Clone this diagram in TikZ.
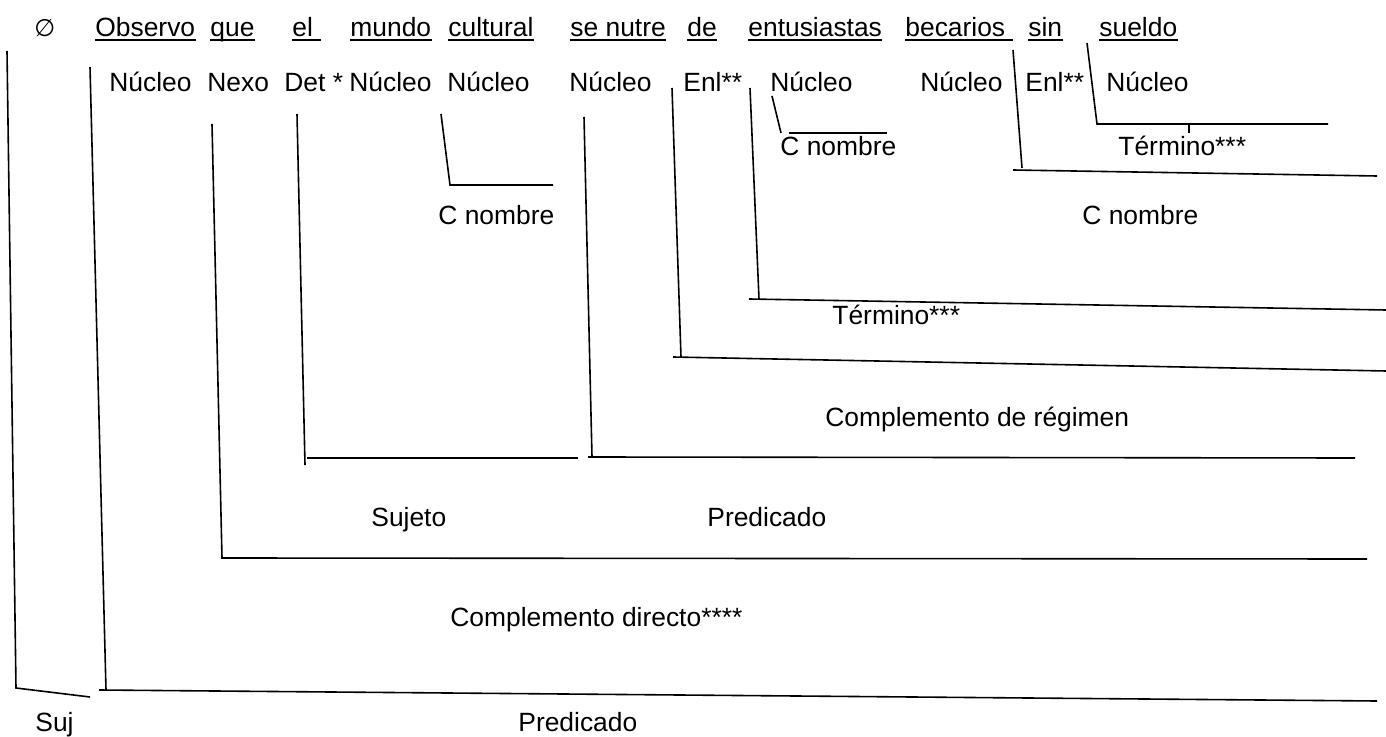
\documentclass[tikz,border=0pt]{standalone}
\usepackage{fontspec}
\setmainfont{Liberation Sans}
\newfontfamily\symfont{DejaVu Sans}

\begin{document}
\begin{tikzpicture}[x=0.5pt, y=-0.5pt, font=\fontsize{13.2}{15}\selectfont,
    word/.style={inner sep=0pt, anchor=base west},
    rama/.style={line width=0.8pt},
    subrayado/.style={line width=1pt}]
    \useasboundingbox (0,0) rectangle (1386,737);

    % oración
    \node[word] (vacio) at (34,37) {\fontsize{12}{14}\symfont ∅};
    \node[word] (w1) at (95,37) {Observo};
    \node[word] (w2) at (210,37) {que};
    \node[word] (w3) at (292,37) {el\ \ };
    \node[word] (w4) at (350,37) {mundo\ };
    \node[word] (w5) at (448,37) {cultural\ };
    \node[word] (w6) at (570,37) {se nutre};
    \node[word] (w7) at (687,37) {de};
    \node[word] (w8) at (748,37) {entusiastas};
    \node[word] (w9) at (905,37) {becarios\ \ };
    \node[word] (w10) at (1028,37) {sin};
    \node[word] (w11) at (1099,37) {sueldo};

    \foreach \w in {w1,w2,w3,w4,w5,w6,w7,w8,w9,w10,w11}
        \draw[subrayado] ([yshift=-1.5pt]\w.base west) -- ([yshift=-1.5pt]\w.base east);

    % funciones
    \node[word] (f1) at (109,92) {Núcleo};
    \node[word] (f2) at (207,92) {Nexo};
    \node[word] (f3) at (284,92) {Det *};
    \node[word] (f4) at (349,92) {Núcleo};
    \node[word] (f5) at (447,92) {Núcleo};
    \node[word] (f6) at (569,92) {Núcleo};
    \node[word] (f7) at (683,92) {Enl**};
    \node[word] (f8) at (770,92) {Núcleo};
    \node[word] (f9) at (920,92) {Núcleo};
    \node[word] (f10) at (1025,92) {Enl**};
    \node[word] (f11) at (1106,92) {Núcleo};

    % grupos
    \node[word] (cn1) at (780,156) {C nombre};
    \node[word] (term2) at (1118,156) {Término***};
    \node[word] (cn2) at (438,225) {C nombre};
    \node[word] (cn3) at (1082,225) {C nombre};
    \node[word] (term1) at (832,325) {Término***};
    \node[word] (creg) at (825,426) {Complemento de régimen};
    \node[word] (suj) at (371,526) {Sujeto};
    \node[word] (pred) at (707,526) {Predicado};
    \node[word] (cd) at (450,626) {Complemento directo****};
    \node[word] (sujp) at (35,731) {Suj};
    \node[word] (predp) at (518,731) {Predicado};

    % líneas
    \draw[rama] (7,51) -- (16,688) -- (90,697);
    \draw[rama] (90,67) -- (106,690);
    \draw[rama] (99,690) -- (1377,701);
    \draw[rama] (212,124) -- (222,558) -- (1367,559);
    \draw[rama] (297,114) -- (305,465);
    \draw[rama] (307,458) -- (578,458);
    \draw[rama] (584,117) -- (592,457);
    \draw[rama] (588,457) -- (1355,458);
    \draw[rama] (672,88) -- (681,357);
    \draw[rama] (673,357) -- (1386,371);
    \draw[rama] (750,88) -- (759,299);
    \draw[rama] (749,299) -- (1386,310);
    \draw[rama] (441,114) -- (450,185) -- (553,185);
    \draw[rama] (772,96) -- (781,133);
    \draw[rama] (789,133) -- (887,133);
    \draw[rama] (1013,50) -- (1022,168);
    \draw[rama] (1013,170) -- (1377,176);
    \draw[rama] (1087,43) -- (1097,124) -- (1328,124);
    \draw[rama] (1189,124) -- (1189,133);

\end{tikzpicture}
\end{document}
